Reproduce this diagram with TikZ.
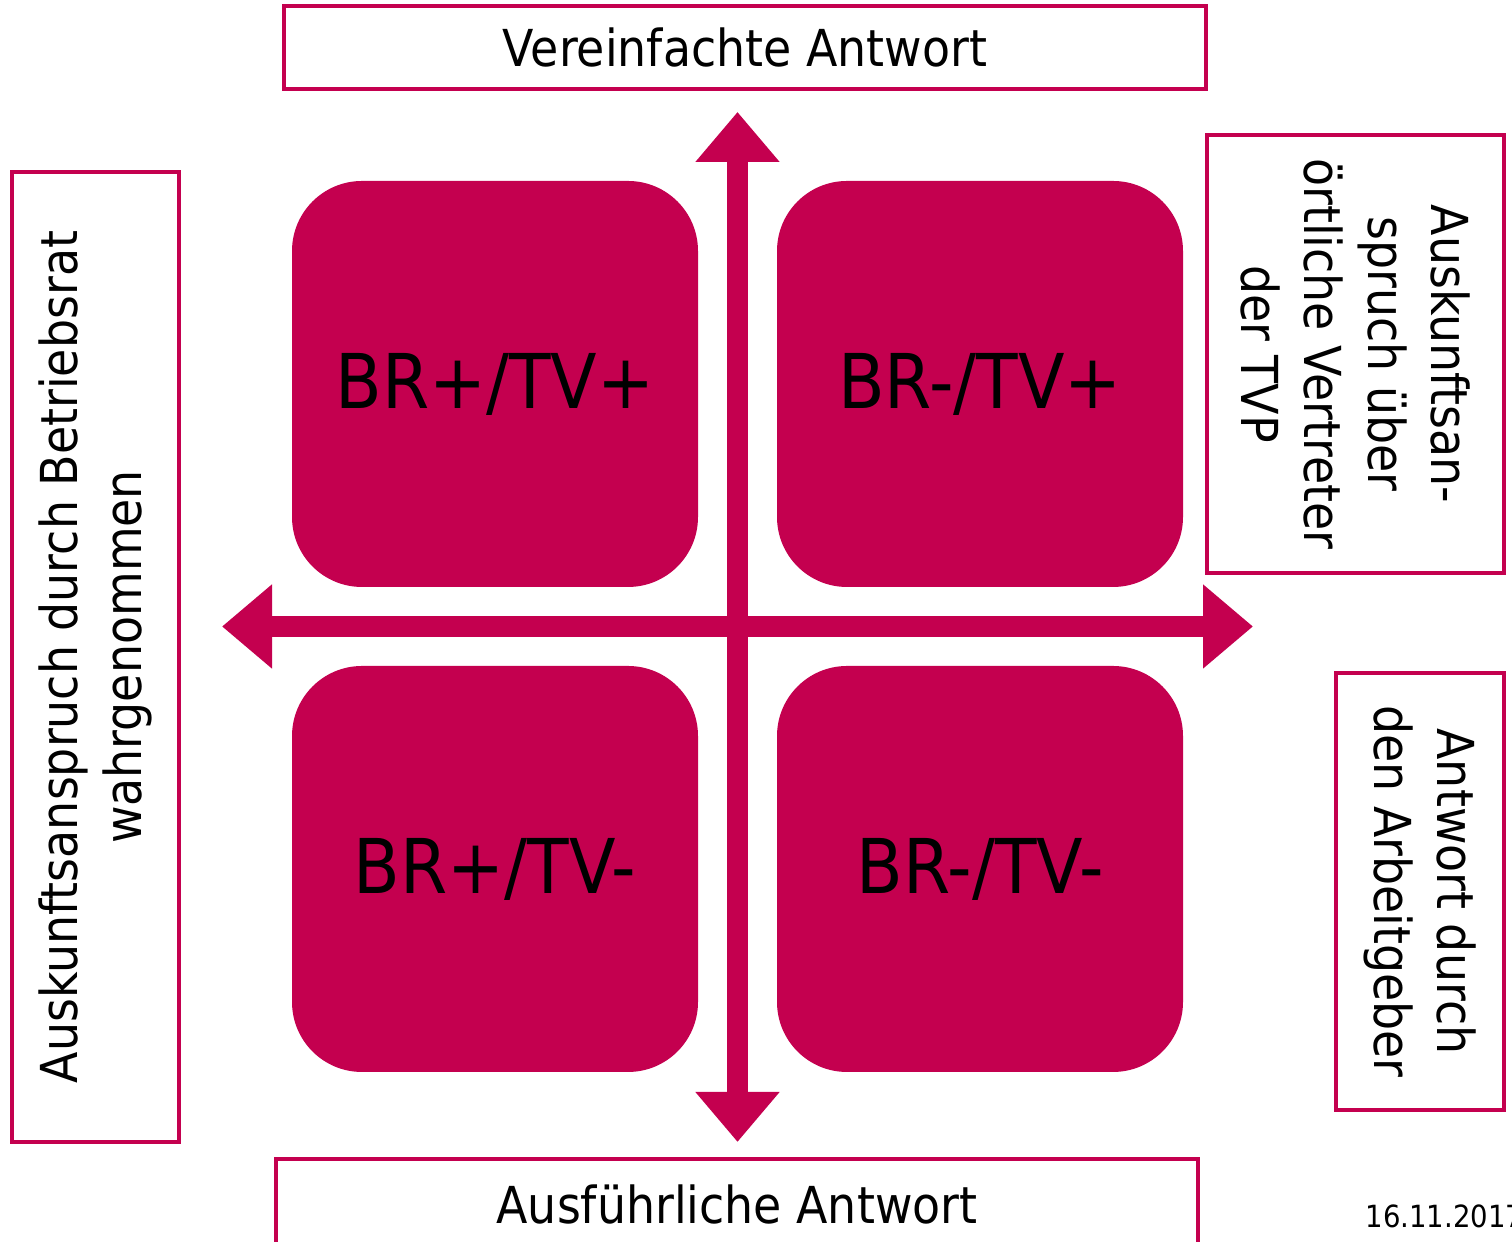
\documentclass[tikz,border=0pt]{standalone}
\usepackage{fontspec}
\setmainfont{DejaVu Sans}[FakeStretch=0.9]
\usetikzlibrary{arrows.meta}
\definecolor{brred}{RGB}{196,0,79}

\begin{document}
\begin{tikzpicture}[
  quad/.style={fill=brred, rounded corners=7mm, minimum size=4.06cm, inner sep=0pt,
    font=\fontsize{21.5}{25}\selectfont},
  labelbox/.style={draw=brred, line width=0.9pt, inner sep=0pt, align=center,
    font=\fontsize{14.5}{18}\selectfont},
  axis/.style={brred, line width=2.1mm,
    {Triangle[width=8.1mm,length=5mm]}-{Triangle[width=8.1mm,length=5mm]}}
]
\useasboundingbox (0,0) rectangle (15.12,12.42);

% the four fields
\node[quad] (pp) at (4.95,8.58) {BR+/TV+};
\node[quad] (mp) at (9.80,8.58) {BR-/TV+};
\node[quad] (pm) at (4.95,3.73) {BR+/TV-};
\node[quad] (mm) at (9.80,3.73) {BR-/TV-};

% axes
\coordinate (ytop) at (7.375,11.30);
\coordinate (ybot) at (7.375,1.00);
\coordinate (xleft) at (2.22,6.155);
\coordinate (xright) at (12.53,6.155);
\draw[axis] (xleft) -- (xright);
\draw[axis] (ybot) -- (ytop);

% labels of the axes
\node[labelbox, minimum width=9.22cm, minimum height=0.83cm] (einfach) at (7.45,11.945) {Vereinfachte Antwort};
\node[labelbox, minimum width=9.22cm, minimum height=0.92cm] (ausf) at (7.37,0.37) {Ausführliche Antwort};
\node[labelbox, rotate=90, minimum width=9.70cm, minimum height=1.67cm] (betriebsrat) at (0.955,5.85)
  {Auskunftsanspruch durch Betriebsrat\\wahrgenommen};
\node[labelbox, rotate=-90, minimum width=4.38cm, minimum height=2.97cm] (tvp) at (13.555,8.88)
  {Auskunftsan-\\spruch über\\örtliche Vertreter\\der TVP};
\node[labelbox, rotate=-90, minimum width=4.37cm, minimum height=1.68cm] (arbeitgeber) at (14.20,3.505)
  {Antwort durch\\den Arbeitgeber};

\node[anchor=base west, inner sep=0pt, font=\fontsize{8.7}{10}\selectfont] (datum) at (13.65,0.14) {16.11.2017};
\end{tikzpicture}
\end{document}
